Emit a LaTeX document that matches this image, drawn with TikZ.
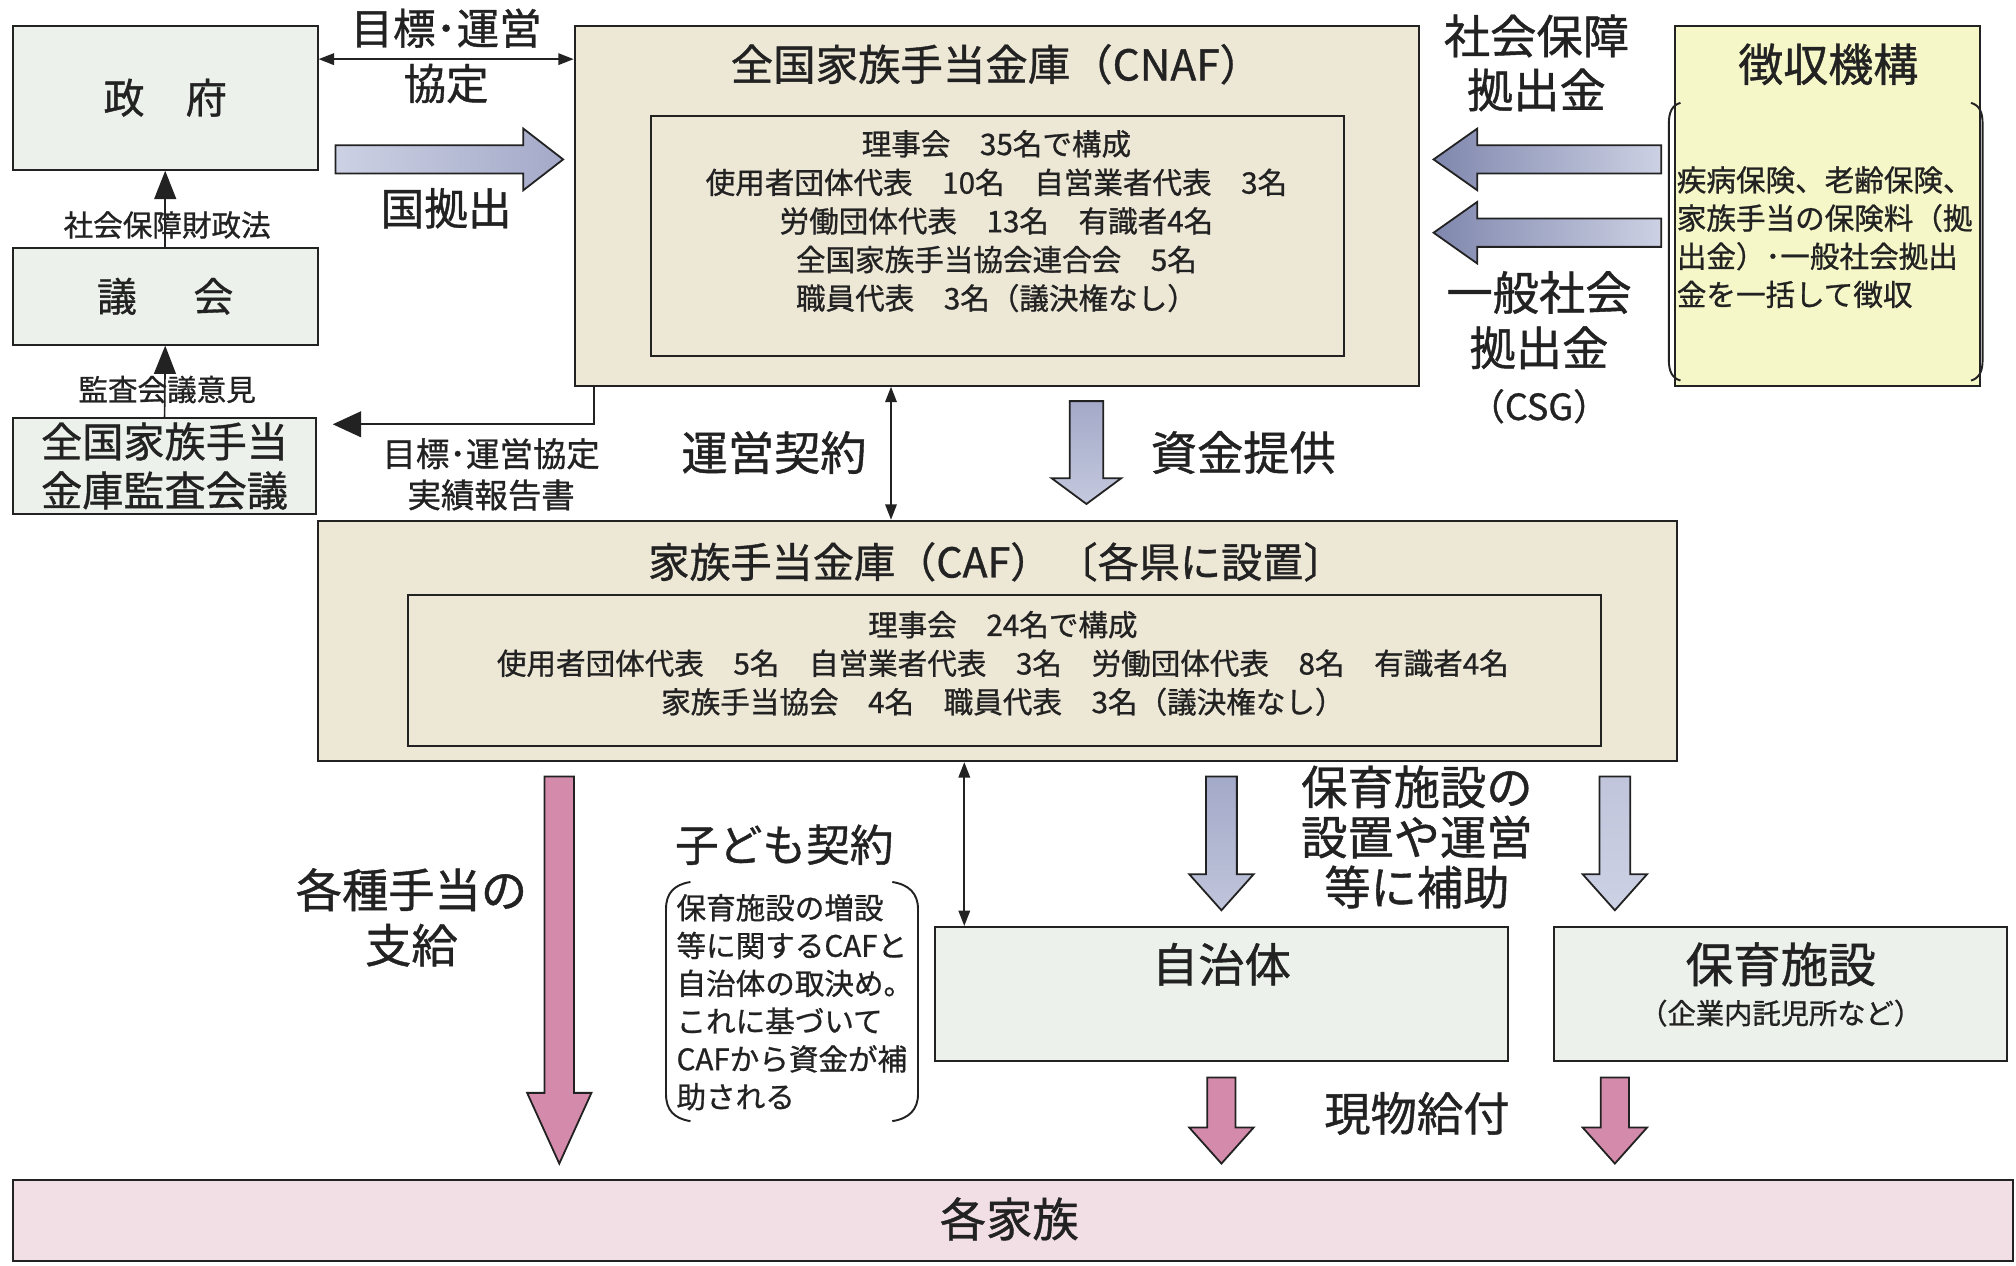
\documentclass[tikz,border=0pt]{standalone}
\usepackage{fontspec}
\setmainfont{Noto Sans CJK JP}[FakeBold=0.9]
\usetikzlibrary{arrows.meta,calc}
\definecolor{boxgreen}{HTML}{ECF1EB}
\definecolor{beige}{HTML}{EDE7D6}
\definecolor{yellowc}{HTML}{F6F7C8}
\definecolor{famp}{HTML}{F2DEE5}
\definecolor{pinka}{HTML}{D48AAA}
\definecolor{blued}{HTML}{7F87AD}
\definecolor{bluem}{HTML}{A3A9C8}
\definecolor{bluel}{HTML}{CDD1E4}
\definecolor{linec}{HTML}{222222}
\newcommand\fsz[2]{\fontsize{#1}{#2}\selectfont}
% fat arrows: x, y tail, y tip, half shaft, half head, head length, style
\newcommand\fatdown[7]{\draw[#7] ({#1-#4},#2) -- ({#1+#4},#2) -- ({#1+#4},{#3-#6}) -- ({#1+#5},{#3-#6}) -- (#1,#3) -- ({#1-#5},{#3-#6}) -- ({#1-#4},{#3-#6}) -- cycle;}
\newcommand\fatright[7]{\draw[#7] (#2,{#1-#4}) -- ({#3-#6},{#1-#4}) -- ({#3-#6},{#1-#5}) -- (#3,#1) -- ({#3-#6},{#1+#5}) -- ({#3-#6},{#1+#4}) -- (#2,{#1+#4}) -- cycle;}
\newcommand\fatleft[7]{\draw[#7] (#2,{#1-#4}) -- ({#3+#6},{#1-#4}) -- ({#3+#6},{#1-#5}) -- (#3,#1) -- ({#3+#6},{#1+#5}) -- ({#3+#6},{#1+#4}) -- (#2,{#1+#4}) -- cycle;}
\begin{document}
\begin{tikzpicture}[x=1pt,y=-1pt,
  every node/.style={inner sep=0pt, text=linec},
  box/.style={draw=linec, line width=1.6pt, inner sep=0pt},
  fat/.style={draw=linec, line width=1.4pt, line join=miter},
  dbl/.style={draw=linec, line width=1.3pt, {Triangle[width=9pt,length=12pt]}-{Triangle[width=9pt,length=12pt]}},
  upar/.style={draw=linec, line width=1.3pt, -{Triangle[width=17pt,length=22pt]}},
  brk/.style={draw=linec, line width=1.5pt}]
\useasboundingbox (0,0) rectangle (1568,984);
% ---------- boxes ----------
\node[box, fill=boxgreen, minimum width=237pt, minimum height=112pt, font=\fsz{32}{32}] (gov) at (128.5,76) {政　府};
\node[box, fill=boxgreen, minimum width=237pt, minimum height=75pt, font=\fsz{31}{31}] (parl) at (128.5,230.5) {議\hspace{44pt}会};
\node[box, fill=boxgreen, minimum width=236pt, minimum height=75pt, align=center, font=\fsz{32}{38}] (audit) at (128,362.5) {全国家族手当\\金庫監査会議};
\node[box, fill=beige, minimum width=657pt, minimum height=280pt] (cnaf) at (775.5,160) {};
\node[font=\fsz{33}{33}] (cnaft) at (775,50) {全国家族手当金庫（CNAF）};
\node[box, minimum width=539pt, minimum height=187pt] (cnafin) at (775.5,183.5) {};
\node[align=center, font=\fsz{23}{30}] (cnaftx) at (775,172) {理事会　35名で構成\\使用者団体代表　10名　自営業者代表　3名\\労働団体代表　13名　有識者4名\\全国家族手当協会連合会　5名\\職員代表　3名（議決権なし）};
\node[box, fill=yellowc, minimum width=237pt, minimum height=280pt] (coll) at (1421.5,160) {};
\node[font=\fsz{35}{35}] (collt) at (1422,50) {徴収機構};
\node[align=left, anchor=west, font=\fsz{23}{29.7}] (colltx) at (1304,184.5) {疾病保険、老齢保険、\\家族手当の保険料（拠\\出金）･一般社会拠出\\金を一括して徴収};
\node[box, fill=beige, minimum width=1057pt, minimum height=187pt] (caf) at (775.5,498.5) {};
\node[font=\fsz{32}{32}] (caft) at (775,437) {家族手当金庫（CAF）\hspace{4pt}〔各県に設置〕};
\node[box, minimum width=928pt, minimum height=117pt] (cafin) at (781,521.5) {};
\node[align=center, font=\fsz{23}{30}] (caftx) at (780,516) {理事会　24名で構成\\使用者団体代表　5名　自営業者代表　3名　労働団体代表　8名　有識者4名\\家族手当協会　4名　職員代表　3名（議決権なし）};
\node[box, fill=boxgreen, minimum width=446pt, minimum height=104pt] (jichi) at (950,773) {};
\node[box, fill=boxgreen, minimum width=352pt, minimum height=104pt] (hoiku) at (1385,773) {};
\node[box, fill=famp, minimum width=1556pt, minimum height=63pt] (fam) at (788,949.5) {};
% ---------- labels ----------
\node[align=center, font=\fsz{33}{43}] (l1) at (347,43.5) {目標･運営\\協定};
\node[font=\fsz{34}{34}] (l2) at (347,162) {国拠出};
\node[font=\fsz{23}{23}] (l3) at (130,175) {社会保障財政法};
\node[font=\fsz{23}{23}] (l4) at (130,303) {監査会議意見};
\node[align=center, font=\fsz{26}{32}] (l5) at (382,369) {目標･運営協定\\実績報告書};
\node[font=\fsz{36}{36}] (l6) at (602,352) {運営契約};
\node[font=\fsz{36}{36}] (l7) at (967,352) {資金提供};
\node[align=center, font=\fsz{36}{42}] (l8) at (1195,49) {社会保障\\拠出金};
\node[align=center, font=\fsz{36}{43}] (l9) at (1197,249) {一般社会\\拠出金};
\node[font=\fsz{28}{28}] (l9b) at (1197,316) {（CSG）};
\node[align=center, font=\fsz{36}{43}] (l10) at (320,713.5) {各種手当の\\支給};
\node[font=\fsz{34}{34}] (l11) at (610,657) {子ども契約};
\node[align=left, anchor=west, font=\fsz{23}{29.4}] (l12) at (526,779.5) {保育施設の増設\\等に関するCAFと\\自治体の取決め。\\これに基づいて\\CAFから資金が補\\助される};
\node[align=center, font=\fsz{36}{39}] (l13) at (1102,651) {保育施設の\\設置や運営\\等に補助};
\node[font=\fsz{36}{36}] (l14) at (950,750) {自治体};
\node[font=\fsz{37}{37}] (l15) at (1385,750) {保育施設};
\node[font=\fsz{22}{22}] (l16) at (1385,788) {（企業内託児所など）};
\node[font=\fsz{36}{36}] (l17) at (1102,866) {現物給付};
\node[font=\fsz{36}{36}] (l18) at (785,948) {各家族};
% ---------- brackets ----------
\draw[brk] (1307,80) .. controls (1300,82) and (1298,88) .. (1298,96) -- (1298,280) .. controls (1298,288) and (1300,294) .. (1307,296);
\draw[brk] (1533,80) .. controls (1540,82) and (1542,88) .. (1542,96) -- (1542,280) .. controls (1542,288) and (1540,294) .. (1533,296);
\draw[brk] (537,686) .. controls (524,688) and (518,695) .. (518,707) -- (518,851) .. controls (518,863) and (524,870) .. (537,872);
\draw[brk] (694,686) .. controls (707,688) and (714,695) .. (714,707) -- (714,851) .. controls (714,863) and (707,870) .. (694,872);
% ---------- thin connectors ----------
\draw[dbl] ([yshift=30pt]gov.east) -- ([yshift=114pt]cnaf.west);
\draw[upar] (parl.north) -- (gov.south);
\draw[upar] (audit.north) -- (parl.south);
\draw[draw=linec, line width=1.3pt, -{Triangle[width=20pt,length=22pt]}, shorten >=12pt] ([xshift=-313.5pt]cnaf.south) |- ([yshift=32.5pt]audit.east);
\draw[dbl] ([xshift=-82.5pt]cnaf.south) -- ([xshift=-82.5pt]caf.north);
\draw[dbl] ([xshift=-25.5pt]caf.south) -- ([xshift=-200pt]jichi.north);
% ---------- fat arrows ----------
\fatright{124}{261}{438}{11}{24}{31}{fat, left color=bluel, right color=bluem}
\fatleft{124}{1292}{1115}{11}{24}{34}{fat, left color=blued, right color=bluel}
\fatleft{181}{1292}{1115}{11}{24}{34}{fat, left color=blued, right color=bluel}
\fatdown{845}{312}{392}{13}{27}{20}{fat, top color=bluem, bottom color=bluel!80!bluem}
\fatdown{435}{604}{905}{11.5}{25}{55}{fat, fill=pinka}
\fatdown{950}{604}{708}{12}{25}{28}{fat, top color=bluem, bottom color=bluel!70!bluem}
\fatdown{1256}{604}{708}{12}{25}{28}{fat, top color=bluel!70!bluem, bottom color=bluel}
\fatdown{950}{838}{905}{11}{25}{28}{fat, fill=pinka}
\fatdown{1256}{838}{905}{11}{25}{28}{fat, fill=pinka}
\end{tikzpicture}
\end{document}
